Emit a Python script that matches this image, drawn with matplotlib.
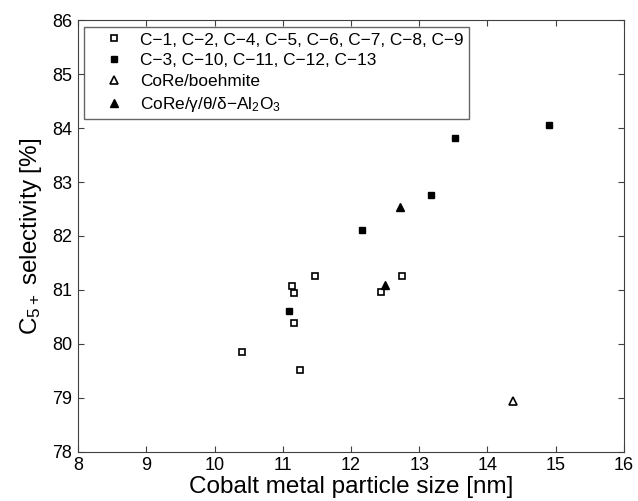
import matplotlib
matplotlib.use("Agg")
import matplotlib.pyplot as plt

plt.rcParams['font.family'] = ['Liberation Sans', 'DejaVu Sans']
plt.rcParams['mathtext.fontset'] = 'custom'
plt.rcParams['mathtext.rm'] = 'Liberation Sans'
plt.rcParams['mathtext.it'] = 'Liberation Sans'

# Data
open_sq_x = [10.41, 11.13, 11.16, 11.16, 11.26, 11.47, 12.44, 12.75]
open_sq_y = [79.84, 81.07, 80.95, 80.39, 79.52, 81.25, 80.96, 81.25]
filled_sq_x = [11.09, 12.16, 13.17, 13.53, 14.90]
filled_sq_y = [80.61, 82.12, 82.76, 83.82, 84.06]
open_tri_x = [14.37]
open_tri_y = [78.93]
filled_tri_x = [12.50, 12.72]
filled_tri_y = [81.10, 82.53]

labels = ["C\u22121, C\u22122, C\u22124, C\u22125, C\u22126, C\u22127, C\u22128, C\u22129",
          "C\u22123, C\u221210, C\u221211, C\u221212, C\u221213",
          "CoRe/boehmite",
          "CoRe/\u03b3/\u03b8/\u03b4\u2212Al$_2$O$_3$"]
xticks = [8, 9, 10, 11, 12, 13, 14, 15, 16]
yticks = [78, 79, 80, 81, 82, 83, 84, 85, 86]

fig = plt.figure(figsize=(6.38, 5.01), dpi=100)
ax = fig.add_axes([0.1223, 0.0986, 0.978 - 0.1223, 0.9593 - 0.0986])

ax.plot(open_sq_x, open_sq_y, 's', ls='none', mfc='white', mec='black', mew=1.2, ms=4.5, label=labels[0])
ax.plot(filled_sq_x, filled_sq_y, 's', ls='none', mfc='black', mec='black', ms=4.5, label=labels[1])
ax.plot(open_tri_x, open_tri_y, '^', ls='none', mfc='white', mec='black', mew=1.2, ms=5.5, label=labels[2])
ax.plot(filled_tri_x, filled_tri_y, '^', ls='none', mfc='black', mec='black', ms=6, label=labels[3])

ax.set_xlim(8, 16)
ax.set_ylim(78, 86)
ax.set_xticks(xticks)
ax.set_yticks(yticks)
ax.tick_params(direction='in', top=True, right=True, labelsize=13, length=4, color='#404040', pad=4)
for s in ax.spines.values():
    s.set_color('#404040')

ax.set_xlabel('Cobalt metal particle size [nm]', fontsize=17.5, labelpad=1)
ax.set_ylabel('C$_{5+}$ selectivity [%]', fontsize=17.5, labelpad=6)

leg = ax.legend(loc='upper left', bbox_to_anchor=(0.011, 0.984), fontsize=12.4, frameon=True,
                fancybox=False, edgecolor='#404040', handlelength=2.9, handletextpad=0.05,
                labelspacing=0.33, borderpad=0.3, borderaxespad=0, numpoints=1)
leg.get_frame().set_linewidth(1.0)

fig.savefig('out.png', dpi=100)
